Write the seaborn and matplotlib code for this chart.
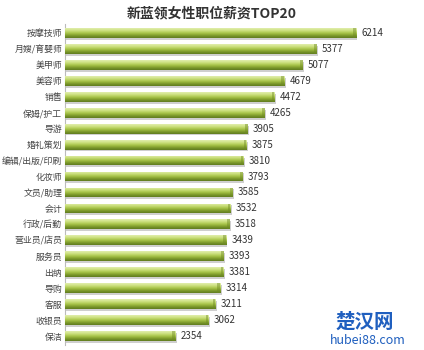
import matplotlib
matplotlib.use("Agg")
import matplotlib.pyplot as plt
import seaborn as sns
import numpy as np
import pandas as pd
from matplotlib.colors import LinearSegmentedColormap

categories = ["按摩技师", "月嫂/育婴师", "美甲师", "美容师", "销售", "保姆/护工", "导游", "婚礼策划",
              "编辑/出版/印刷", "化妆师", "文员/助理", "会计", "行政/后勤", "营业员/店员", "服务员",
              "出纳", "导购", "客服", "收银员", "保洁"]
salaries = [6214, 5377, 5077, 4679, 4472, 4265, 3905, 3875, 3810, 3793, 3585, 3532, 3518, 3439,
            3393, 3381, 3314, 3211, 3062, 2354]
title = "新蓝领女性职位薪资TOP20"

sns.set_theme(style="white")
plt.rcParams['font.family'] = ['Noto Sans CJK SC', 'DejaVu Sans']

df = pd.DataFrame({"job": categories, "salary": salaries})

fig = plt.figure(figsize=(4.24, 3.5), dpi=100)
ax = fig.add_axes([65/424, 1-345/350, (420-65)/424, (345-24)/350])
sns.barplot(data=df, x="salary", y="job", color="#9fc040", width=0.62, ax=ax, orient="h")

ax.set_xlim(0, 7580)
ax.set_ylim(len(categories) - 0.45, -0.55)

cmap = LinearSegmentedColormap.from_list("g", ["#e2efb0", "#cce07f", "#a9c64a", "#7f9c2c", "#5e7a1e"])
grad = np.linspace(0, 1, 64).reshape(-1, 1)
for p in ax.patches:
    x0, y0 = p.get_x(), p.get_y()
    w, h = p.get_width(), p.get_height()
    # shadow
    ax.add_patch(plt.Rectangle((x0 + 30, y0 + 0.12), w, h, color="#cfcfcf", zorder=1, lw=0))
    p.set_zorder(2)
    p.set_edgecolor("none")
    im = ax.imshow(grad, cmap=cmap, aspect="auto", extent=[x0, x0 + w, y0 + h, y0],
                   zorder=3, interpolation="bicubic")
    im.set_clip_path(p)
    # end cap darker
    ax.add_patch(plt.Rectangle((x0 + w - 60, y0), 60, h, color="#6f8a24", alpha=0.45, zorder=4, lw=0))

for i, v in enumerate(salaries):
    ax.text(v + 110, i, str(v), va="center", ha="left", fontsize=7, color="#333333")

ax.set_xlabel("")
ax.set_ylabel("")
ax.set_xticks([])
ax.tick_params(axis="y", length=0, pad=2, labelsize=6.4, colors="#444444")
for s in ["top", "right", "bottom"]:
    ax.spines[s].set_visible(False)
ax.spines["left"].set_color("#bbbbbb")
ax.spines["left"].set_linewidth(0.8)

fig.text(212/424, 1-13/350, title, ha="center", va="center", fontsize=10, fontweight="bold", color="#333333")

# watermark
fig.text(336/424, 1-322/350, "楚汉网", ha="left", va="center", fontsize=14, fontweight="bold", color="#1f5fbf")
fig.text(330/424, 1-340/350, "hubei88.com", ha="left", va="center", fontsize=9, color="#1f5fbf")

fig.savefig("out.png", dpi=100)
